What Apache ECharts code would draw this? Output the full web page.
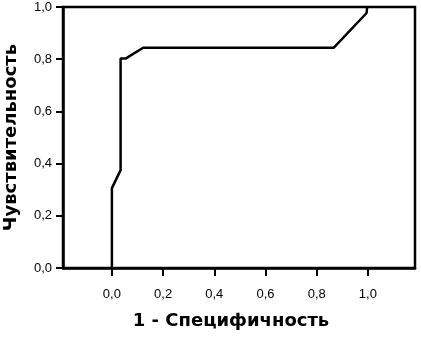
<!DOCTYPE html>
<html><head><meta charset="utf-8">
<script src="https://cdn.jsdelivr.net/npm/echarts@6/dist/echarts.min.js"></script>
<style>html,body{margin:0;padding:0;background:#fff}#c{width:421px;height:337px}</style>
</head><body><div id="c"></div>
<script>
// ROC curve points: 1 - specificity (x) and sensitivity (y)
var fpr = [0, 0, 0.034, 0.034, 0.055, 0.122, 0.867, 0.995, 0.997];
var tpr = [0, 0.306, 0.375, 0.803, 0.803, 0.844, 0.844, 0.977, 1.0];
var xTicks = [0, 0.2, 0.4, 0.6, 0.8, 1.0];
var yTicks = [0, 0.2, 0.4, 0.6, 0.8, 1.0];
var xTitle = '1 - Специфичность';
var yTitle = 'Чувствительность';

var data = fpr.map(function (v, i) { return [v, tpr[i]]; });
function fmt(v) { return v.toFixed(1).replace('.', ','); }
var chart = echarts.init(document.getElementById('c'));
chart.setOption({
  animation: false,
  backgroundColor: '#fff',
  grid: { left: 63, top: 7, width: 352, height: 261, outerBoundsMode: 'none', containLabel: false, show: true, borderColor: '#000', borderWidth: 2.5, backgroundColor: 'transparent' },
  xAxis: {
    type: 'value', min: -0.191, max: 1.184,
    name: xTitle, nameLocation: 'middle', nameGap: 44,
    nameTextStyle: { color: '#000', fontFamily: 'DejaVu Sans', fontWeight: 'bold', fontSize: 18, padding: [0, 16, 0, 0] },
    axisLine: { show: true, onZero: false, lineStyle: { color: '#000', width: 2.5 } },
    axisTick: { show: true, customValues: xTicks, length: 8, lineStyle: { color: '#000', width: 2 } },
    axisLabel: { customValues: xTicks, formatter: fmt, margin: 20, color: '#000', fontFamily: 'Liberation Sans, Arial', fontSize: 13 },
    splitLine: { show: false }
  },
  yAxis: {
    type: 'value', min: 0, max: 1, interval: 0.2,
    name: yTitle, nameLocation: 'middle', nameGap: 43, nameRotate: 90,
    nameTextStyle: { color: '#000', fontFamily: 'DejaVu Sans', fontWeight: 'bold', fontSize: 18 },
    axisLine: { show: true, onZero: false, lineStyle: { color: '#000', width: 2.5 } },
    axisTick: { show: true, length: 7, lineStyle: { color: '#000', width: 2 } },
    axisLabel: { formatter: fmt, margin: 11, color: '#000', fontFamily: 'Liberation Sans, Arial', fontSize: 13 },
    splitLine: { show: false }
  },
  series: [{
    type: 'line', data: data, symbol: 'none',
    lineStyle: { color: '#000', width: 2.5 }
  }]
});
</script></body></html>
